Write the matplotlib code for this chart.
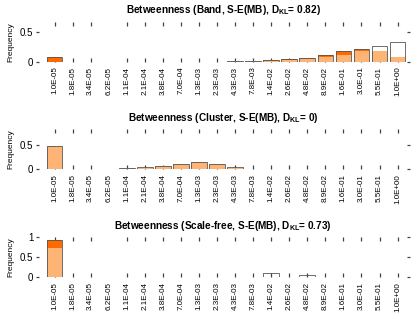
import matplotlib
matplotlib.use("Agg")
import matplotlib.pyplot as plt
import numpy as np

plt.rcParams['font.family'] = ['Liberation Sans', 'DejaVu Sans']
plt.rcParams['mathtext.fontset'] = 'custom'
plt.rcParams['mathtext.rm'] = 'Liberation Sans'
plt.rcParams['mathtext.bf'] = 'Liberation Sans:bold'

categories = ["1.0E-05", "1.8E-05", "3.4E-05", "6.2E-05", "1.1E-04", "2.1E-04",
              "3.8E-04", "7.0E-04", "1.3E-03", "2.3E-03", "4.3E-03", "7.8E-03",
              "1.4E-02", "2.6E-02", "4.8E-02", "8.9E-02", "1.6E-01", "3.0E-01",
              "5.5E-01", "1.0E+00"]

titles = ["Band", "Cluster", "Scale-free"]
dkl = ["0.82", "0", "0.73"]

# observed (orange) and reference (outline) frequencies
band_obs = [0.08, 0, 0, 0, 0, 0, 0, 0, 0, 0, 0.01, 0.02, 0.03, 0.05, 0.07,
            0.12, 0.18, 0.21, 0.19, 0.08]
band_ref = [0, 0, 0, 0, 0, 0, 0, 0.003, 0.003, 0.003, 0.01, 0.02, 0.02, 0.03,
            0.04, 0.075, 0.12, 0.18, 0.27, 0.33]
cluster_obs = [0.47, 0, 0, 0.003, 0.02, 0.03, 0.06, 0.10, 0.14, 0.11, 0.03,
               0, 0, 0, 0, 0, 0, 0, 0, 0]
cluster_ref = [0.47, 0, 0, 0.003, 0.02, 0.04, 0.06, 0.11, 0.16, 0.11, 0.04,
               0, 0, 0, 0, 0, 0, 0, 0, 0]
scale_obs = [0.92, 0, 0, 0, 0, 0, 0, 0, 0, 0, 0, 0.01, 0.01, 0, 0, 0, 0, 0, 0, 0]
scale_ref = [0.73, 0, 0, 0, 0.003, 0.003, 0, 0.003, 0, 0, 0, 0.01, 0.11,
             0.003, 0.05, 0.003, 0.003, 0.003, 0.003, 0.003]

series = [(band_obs, band_ref), (cluster_obs, cluster_ref), (scale_obs, scale_ref)]
ylims = [0.68, 0.82, 1.0]
yticks = [[0, 0.5], [0, 0.5], [0, 0.5, 1]]
ylabels = [["0", "0.5"], ["0", "0.5"], ["0", "0.5", "1"]]
missing_ticks = ["6.2E-05"]

LIGHT = "#FDB474"
DARK = "#FF6A00"
EDGE = "#555555"
TICK = "#444444"

fig = plt.figure(figsize=(4.13, 3.14), dpi=100)
bottoms = [0.8035, 0.4608, 0.1169]
x = np.arange(len(categories))
w = 0.865

for i in range(3):
    ax = fig.add_axes([0.0872, bottoms[i], 0.9056, 0.1274])
    obs = np.array(series[i][0], dtype=float)
    ref = np.array(series[i][1], dtype=float)
    low = np.minimum(obs, ref)
    excess = np.clip(obs - ref, 0, None)
    high = np.maximum(obs, ref)
    ax.bar(x, low, width=w, color=LIGHT, linewidth=0, zorder=2)
    ax.bar(x, excess, bottom=low, width=w, color=DARK, linewidth=0, zorder=2)
    mask = high > 0
    ax.bar(x[mask], high[mask], width=w, fill=False, edgecolor=EDGE,
           linewidth=0.6, zorder=3)
    ax.set_xlim(-1.025, 19.69)
    ax.set_ylim(0, ylims[i])
    for s in ax.spines.values():
        s.set_visible(False)
    ax.set_xticks(x)
    ax.set_xticklabels(categories, rotation=90, fontsize=5.8)
    ax.tick_params(axis='x', which='major', direction='in', length=2.6,
                   width=0.9, color=TICK, top=True, bottom=True, pad=3.5)
    for k, t in enumerate(ax.xaxis.get_major_ticks()):
        if categories[k] in missing_ticks:
            t.tick1line.set_visible(False)
            t.tick2line.set_visible(False)
    ax.set_yticks(yticks[i])
    ax.set_yticklabels(ylabels[i], fontsize=7)
    ax.tick_params(axis='y', which='major', direction='in', length=2.5,
                   width=0.9, color=TICK, right=True, left=True, pad=2)
    ax.set_ylabel("Frequency", fontsize=6, labelpad=4)
    ax.set_title(r"Betweenness (%s, S-E(MB), D$_{\mathbf{KL}}$= %s)" % (titles[i], dkl[i]),
                 fontsize=7.2, fontweight='bold', pad=6)

fig.savefig("out.png", dpi=100)
